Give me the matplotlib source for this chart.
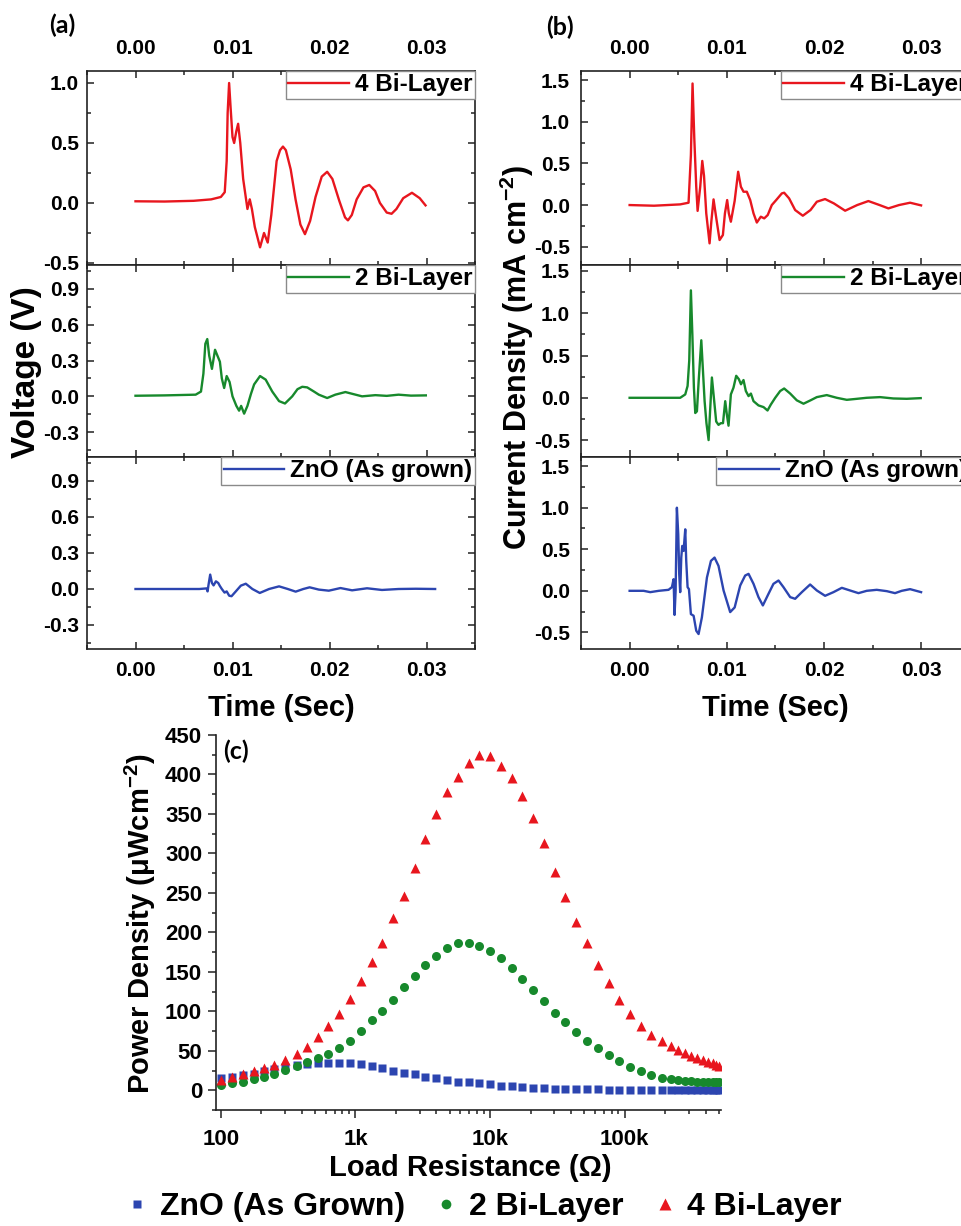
import matplotlib
matplotlib.use("Agg")
import matplotlib.pyplot as plt
from matplotlib.ticker import MultipleLocator, FormatStrFormatter, FixedLocator, FixedFormatter, LogLocator, NullFormatter
from matplotlib.lines import Line2D

plt.rcParams['font.family'] = ['Liberation Sans', 'DejaVu Sans']
plt.rcParams['font.weight'] = 'bold'
plt.rcParams['mathtext.fontset'] = 'custom'
plt.rcParams['mathtext.rm'] = 'Liberation Sans:bold'
plt.rcParams['mathtext.bf'] = 'Liberation Sans:bold'
plt.rcParams['mathtext.default'] = 'rm'

# ---------------- data: (a) voltage vs time ----------------
t_v4 = [0.0, 0.0030, 0.0060, 0.0078, 0.0088, 0.0092, 0.0094, 0.0095, 0.00965, 0.0098,
        0.0100, 0.01017, 0.0104, 0.01058, 0.0108, 0.0111, 0.01154, 0.01178, 0.0120, 0.0123,
        0.01284, 0.01325, 0.01363, 0.0140, 0.01455, 0.0149, 0.0152, 0.0155, 0.0160, 0.0165,
        0.0170, 0.01747, 0.0180, 0.01856, 0.0192, 0.01976, 0.0203, 0.0210, 0.0216, 0.0219,
        0.0223, 0.0228, 0.0235, 0.0241, 0.0247, 0.0252, 0.0259, 0.0264, 0.0269, 0.0276,
        0.0285, 0.0293, 0.0299]
v_4bl = [0.014, 0.012, 0.018, 0.03, 0.05, 0.09, 0.35, 0.75, 1.0, 0.8,
         0.55, 0.5, 0.6, 0.66, 0.5, 0.2, -0.05, 0.03, -0.05, -0.2,
         -0.37, -0.25, -0.33, -0.1, 0.35, 0.44, 0.47, 0.44, 0.28, 0.03,
         -0.18, -0.26, -0.15, 0.05, 0.22, 0.26, 0.2, 0.02, -0.12, -0.145,
         -0.1, 0.03, 0.13, 0.15, 0.1, 0.0, -0.08, -0.09, -0.05, 0.04,
         0.085, 0.04, -0.02]

t_v2 = [0.0, 0.003, 0.0062, 0.00675, 0.0070, 0.0072, 0.0074, 0.0076, 0.00788, 0.0082,
        0.0085, 0.0087, 0.0089, 0.00914, 0.0094, 0.0097, 0.0100, 0.0104, 0.01068, 0.01089,
        0.0112, 0.01154, 0.0119, 0.01223, 0.01284, 0.01342, 0.0141, 0.0148, 0.01541, 0.01616,
        0.0167, 0.01719, 0.0177, 0.0184, 0.0189, 0.01976, 0.0206, 0.02164, 0.0224, 0.02336,
        0.02473, 0.0259, 0.02712, 0.0284, 0.02993]
v_2bl = [0.005, 0.008, 0.014, 0.04, 0.19, 0.44, 0.48, 0.34, 0.23, 0.39,
         0.33, 0.29, 0.15, 0.07, 0.17, 0.12, 0.0, -0.08, -0.12, -0.08,
         -0.145, -0.08, 0.02, 0.1, 0.17, 0.14, 0.04, -0.04, -0.06, 0.0,
         0.06, 0.08, 0.075, 0.04, 0.014, -0.014, 0.014, 0.036, 0.02, 0.0,
         0.01, 0.004, 0.014, 0.006, 0.008]

t_v0 = [0.0, 0.0035, 0.00658, 0.00733, 0.00743, 0.00753, 0.0077, 0.00788, 0.00805, 0.00829,
        0.00853, 0.0087, 0.0089, 0.00918, 0.0094, 0.00966, 0.0099, 0.01034, 0.01086, 0.01137,
        0.01205, 0.01281, 0.01377, 0.0148, 0.0157, 0.01651, 0.0173, 0.01795, 0.0189, 0.01993,
        0.02113, 0.02233, 0.02387, 0.02541, 0.02712, 0.0289, 0.03089]
v_zno = [0.0, 0.0, 0.0, 0.005, -0.02, 0.036, 0.12, 0.05, 0.03, 0.064,
         0.05, 0.025, 0.0, -0.03, -0.02, -0.056, -0.06, -0.02, 0.028, 0.044,
         0.0, -0.033, 0.0, 0.022, 0.0, -0.022, 0.0, 0.014, -0.005, -0.014,
         0.008, -0.011, 0.006, -0.008, 0.0, 0.002, 0.0]

# ---------------- data: (b) current density vs time ----------------
t_j4 = [0.0, 0.0025, 0.0052, 0.00606, 0.0063, 0.00647, 0.00665, 0.00685, 0.00699, 0.00726,
        0.00747, 0.00765, 0.00788, 0.00822, 0.0084, 0.00863, 0.0089, 0.00925, 0.00959, 0.0098,
        0.01003, 0.0102, 0.01041, 0.0108, 0.01116, 0.01144, 0.01171, 0.01205, 0.0124, 0.01274,
        0.01308, 0.01349, 0.01384, 0.0142, 0.01462, 0.01507, 0.01565, 0.01589, 0.0164, 0.01702,
        0.01781, 0.0186, 0.01925, 0.0201, 0.0210, 0.02216, 0.0234, 0.02455, 0.0257, 0.02661,
        0.0277, 0.02884, 0.02997]
j_4bl = [0.0, -0.008, 0.008, 0.028, 0.6, 1.46, 0.8, 0.22, -0.07, 0.22,
         0.53, 0.35, -0.1, -0.46, -0.2, 0.068, -0.15, -0.42, -0.36, -0.1,
         0.06, -0.1, -0.2, 0.05, 0.4, 0.22, 0.16, 0.16, 0.06, -0.1,
         -0.21, -0.14, -0.16, -0.12, 0.0, 0.06, 0.14, 0.148, 0.08, -0.06,
         -0.128, -0.06, 0.04, 0.072, 0.02, -0.068, 0.0, 0.048, 0.0, -0.04,
         0.0, 0.028, -0.004]

t_j2 = [0.0, 0.003, 0.0052, 0.00572, 0.00596, 0.00613, 0.0063, 0.00645, 0.00661, 0.00675,
        0.00692, 0.0071, 0.00737, 0.00755, 0.00771, 0.0079, 0.00812, 0.0083, 0.00846, 0.00863,
        0.0089, 0.00914, 0.00938, 0.0096, 0.00983, 0.0100, 0.01017, 0.01041, 0.01068, 0.01096,
        0.01123, 0.01145, 0.01171, 0.01195, 0.01223, 0.01247, 0.01274, 0.01325, 0.01377, 0.01418,
        0.01452, 0.01497, 0.01548, 0.01589, 0.01651, 0.01719, 0.01788, 0.0186, 0.01925, 0.02027,
        0.0213, 0.02233, 0.02338, 0.02438, 0.02575, 0.02712, 0.02849, 0.02993]
j_2bl = [0.0, 0.0, 0.0, 0.04, 0.14, 0.44, 1.27, 0.75, 0.12, -0.18,
         -0.16, 0.2, 0.68, 0.3, -0.04, -0.3, -0.5, -0.1, 0.24, 0.04,
         -0.28, -0.32, -0.3, -0.3, -0.04, -0.2, -0.33, 0.04, 0.12, 0.26,
         0.22, 0.16, 0.21, 0.08, 0.02, 0.05, -0.04, -0.09, -0.11, -0.15,
         -0.08, 0.0, 0.08, 0.11, 0.05, -0.03, -0.07, -0.03, 0.008, 0.032,
         0.0, -0.024, -0.012, 0.0, 0.008, -0.008, -0.012, -0.004]

t_j0 = [0.0, 0.00144, 0.00212, 0.003, 0.004, 0.00435, 0.00452, 0.00462, 0.00473, 0.00486,
        0.0050, 0.0051, 0.0052, 0.00531, 0.00541, 0.00555, 0.00572, 0.00582, 0.00596, 0.0061,
        0.0063, 0.00658, 0.00685, 0.00709, 0.00743, 0.00795, 0.00836, 0.00873, 0.00914, 0.00966,
        0.01034, 0.0108, 0.01137, 0.01188, 0.01223, 0.01274, 0.01325, 0.0137, 0.01428, 0.01479,
        0.01531, 0.01582, 0.01651, 0.01702, 0.01771, 0.01856, 0.01925, 0.0201, 0.02096, 0.02182,
        0.02267, 0.02353, 0.02438, 0.02541, 0.02644, 0.02729, 0.02798, 0.02884, 0.02997]
j_zno = [0.0, 0.0, -0.016, 0.0, 0.012, 0.044, 0.14, -0.29, 0.0, 1.0,
         0.68, 0.2, -0.016, 0.4, 0.54, 0.48, 0.74, 0.36, 0.044, 0.02,
         -0.28, -0.3, -0.48, -0.52, -0.32, 0.16, 0.36, 0.4, 0.3, 0.004,
         -0.256, -0.2, 0.064, 0.184, 0.204, 0.084, -0.076, -0.176, -0.036, 0.084,
         0.124, 0.044, -0.076, -0.096, -0.016, 0.076, 0.004, -0.06, -0.016, 0.036,
         0.004, -0.028, 0.0, 0.012, -0.004, -0.028, 0.0, 0.02, -0.016]

# ---------------- data: (c) power density vs load ----------------
load_r = [100, 120, 145, 175, 210, 250, 300, 365, 440, 525,
          630, 760, 910, 1100, 1320, 1580, 1900, 2290, 2750, 3300,
          3980, 4790, 5750, 6920, 8320, 10000, 12000, 14500, 17400, 20900,
          25100, 30200, 36300, 43700, 52500, 63100, 75900, 91200, 110000, 132000,
          158000, 190000, 220000, 250000, 280000, 310000, 345000, 380000, 415000, 450000,
          480000, 505000]
p_zno = [15, 17, 19, 21, 24, 27, 29, 32, 33, 35,
         35, 35, 34, 33, 31, 28, 25, 22, 20, 17,
         15, 13, 11, 10, 9, 7.5, 6, 5, 4, 3.2,
         2.6, 2.1, 1.7, 1.4, 1.2, 1.0, 0.9, 0.8, 0.7, 0.6,
         0.55, 0.5, 0.5, 0.45, 0.45, 0.4, 0.4, 0.4, 0.35, 0.35,
         0.35, 0.3]
p_2bl = [7, 9, 11, 14, 17, 21, 26, 31, 36, 41,
         46, 53, 63, 75, 89, 100, 114, 131, 145, 159,
         170, 180, 186, 186, 183, 177, 167, 155, 141, 127,
         113, 98, 86, 74, 63, 54, 45, 37, 30, 24,
         19, 16, 14, 13, 12, 12, 11, 11, 10, 10,
         10, 10]
p_4bl = [13, 17, 20, 24, 28, 32, 38, 46, 55, 67,
         81, 96, 115, 139, 162, 187, 218, 246, 281, 318,
         350, 378, 397, 414, 425, 424, 411, 395, 373, 345,
         313, 276, 245, 213, 186, 159, 136, 114, 96, 82,
         70, 62, 56, 51, 47, 44, 41, 38, 36, 34,
         32, 31]

RED = '#e8161e'
GREEN = '#17892c'
BLUE = '#2c45b0'
SPINE = '#222222'

W, H = 962, 1226
fig = plt.figure(figsize=(W / 100, H / 100), dpi=100)


def box(x0, y0, x1, y1):
    # pixel box (top-left origin) -> figure fraction rect
    return [x0 / W, 1 - y1 / H, (x1 - x0) / W, (y1 - y0) / H]


def style_trace_ax(ax, ylim, major, minor, where):
    ax.set_xlim(-0.005, 0.035)
    ax.set_ylim(*ylim)
    ax.xaxis.set_major_locator(MultipleLocator(0.01))
    ax.xaxis.set_minor_locator(MultipleLocator(0.005))
    ax.xaxis.set_major_formatter(FormatStrFormatter('%.2f'))
    ax.yaxis.set_major_locator(MultipleLocator(major))
    ax.yaxis.set_minor_locator(MultipleLocator(minor))
    ax.yaxis.set_major_formatter(FormatStrFormatter('%.1f'))
    ax.tick_params(which='both', direction='in', top=True, right=True,
                   width=1.1, color=SPINE, labelsize=15)
    ax.tick_params(which='major', length=5)
    ax.tick_params(which='minor', length=3)
    ax.tick_params(axis='y', pad=6)
    ax.tick_params(axis='x', pad=9)
    ax.tick_params(labeltop=(where == 'top'), labelbottom=(where == 'bottom'))
    for s in ax.spines.values():
        s.set_linewidth(1.2)
        s.set_color(SPINE)


def add_leg(ax):
    leg = ax.legend(loc='upper right', borderaxespad=0, fancybox=False,
                    edgecolor='#8a8a8a', framealpha=1, handlelength=2.5,
                    handletextpad=0.25, borderpad=0.1,
                    prop={'weight': 'bold', 'size': 17.5})
    leg.get_frame().set_linewidth(1.0)


rows = [(71, 265), (265, 457), (457, 649)]
where = ['top', 'mid', 'bottom']

# (a) voltage
a_series = [(t_v4, v_4bl, RED, '4 Bi-Layer', (-0.517, 1.1), 0.5, 0.25),
            (t_v2, v_2bl, GREEN, '2 Bi-Layer', (-0.508, 1.1), 0.3, 0.15),
            (t_v0, v_zno, BLUE, 'ZnO (As grown)', (-0.5, 1.1), 0.3, 0.15)]
for (y0, y1), w, (tt, vv, c, lab, yl, mj, mn) in zip(rows, where, a_series):
    ax = fig.add_axes(box(87, y0, 475, y1))
    ax.plot(tt, vv, color=c, lw=1.7, label=lab, solid_joinstyle='round')
    style_trace_ax(ax, yl, mj, mn, w)
    add_leg(ax)

# (b) current density
b_series = [(t_j4, j_4bl, RED, '4 Bi-Layer', (-0.72, 1.61)),
            (t_j2, j_2bl, GREEN, '2 Bi-Layer', (-0.70, 1.57)),
            (t_j0, j_zno, BLUE, 'ZnO (As grown)', (-0.70, 1.61))]
for (y0, y1), w, (tt, jj, c, lab, yl) in zip(rows, where, b_series):
    ax = fig.add_axes(box(581, y0, 970, y1))
    ax.plot(tt, jj, color=c, lw=1.7, label=lab, solid_joinstyle='round')
    style_trace_ax(ax, yl, 0.5, 0.25, w)
    ax.tick_params(axis='y', pad=8)
    add_leg(ax)

fig.text(49 / W, 1 - 25 / H, '(a)', fontsize=18, fontweight='bold',
         family=['Lato', 'DejaVu Sans'], va='center', ha='left')
fig.text(546 / W, 1 - 27 / H, '(b)', fontsize=18, fontweight='bold',
         family=['Lato', 'DejaVu Sans'], va='center', ha='left')
fig.text(27 / W, 1 - 372 / H, 'Voltage (V)', rotation=90, fontsize=24,
         fontweight='bold', ha='center', va='center')
fig.text(517 / W, 1 - 357 / H, 'Current Density (mA cm$^{-2}$)', rotation=90,
         fontsize=22, fontweight='bold', ha='center', va='center')
fig.text(281 / W, 1 - 708 / H, 'Time (Sec)', fontsize=21, fontweight='bold',
         ha='center', va='center')
fig.text(775 / W, 1 - 708 / H, 'Time (Sec)', fontsize=21, fontweight='bold',
         ha='center', va='center')

# (c) power density
axc = fig.add_axes(box(216, 735, 721, 1110))
axc.plot(load_r, p_zno, ls='none', marker='s', ms=5.5, color=BLUE, mec='none')
axc.plot(load_r, p_2bl, ls='none', marker='o', ms=6.5, color=GREEN, mec='none')
axc.plot(load_r, p_4bl, ls='none', marker='^', ms=7.2, color=RED, mec='none')
axc.set_xscale('log')
axc.set_xlim(92, 520000)
axc.set_ylim(-25, 450)
axc.yaxis.set_major_locator(MultipleLocator(50))
axc.yaxis.set_minor_locator(MultipleLocator(25))
axc.xaxis.set_major_locator(FixedLocator([100, 1000, 10000, 100000]))
axc.xaxis.set_major_formatter(FixedFormatter(['100', '1k', '10k', '100k']))
axc.xaxis.set_minor_locator(LogLocator(base=10, subs=range(2, 10)))
axc.xaxis.set_minor_formatter(NullFormatter())
axc.tick_params(which='both', direction='out', width=1.1, color=SPINE, labelsize=16)
axc.tick_params(which='major', length=6)
axc.tick_params(which='minor', length=3)
axc.tick_params(axis='x', pad=8)
axc.tick_params(axis='y', pad=4)
for side in ('top', 'right'):
    axc.spines[side].set_visible(False)
for side in ('left', 'bottom'):
    axc.spines[side].set_linewidth(1.2)
    axc.spines[side].set_color(SPINE)

fig.text(223 / W, 1 - 751 / H, '(c)', fontsize=18, fontweight='bold',
         family=['Lato', 'DejaVu Sans'], va='center', ha='left')
fig.text(140 / W, 1 - 924 / H, 'Power Density (\u03bcWcm$^{-2}$)', rotation=90,
         fontsize=21, fontweight='bold', ha='center', va='center')
fig.text(470 / W, 1 - 1168 / H, 'Load Resistance (\u03a9)', fontsize=21,
         fontweight='bold', ha='center', va='center')

handles = [Line2D([], [], ls='none', marker='s', ms=5.5, color=BLUE, mec='none'),
           Line2D([], [], ls='none', marker='o', ms=7, color=GREEN, mec='none'),
           Line2D([], [], ls='none', marker='^', ms=8, color=RED, mec='none')]
fig.legend(handles, ['ZnO (As Grown)', '2 Bi-Layer', '4 Bi-Layer'],
           loc='center', bbox_to_anchor=(483 / W, 1 - 1207 / H), ncol=3,
           frameon=False, handlelength=0.8, handletextpad=0.3, columnspacing=0.9,
           prop={'weight': 'bold', 'size': 23})

fig.savefig('out.png', dpi=100)
